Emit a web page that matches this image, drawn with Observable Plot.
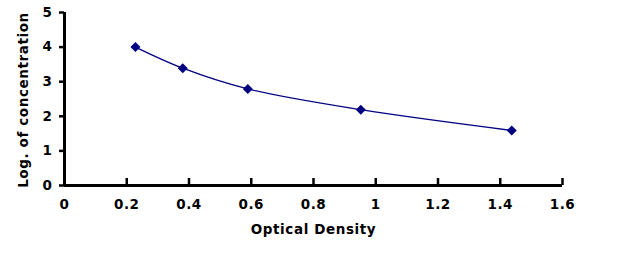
<!DOCTYPE html>
<html><head><meta charset="utf-8">
<script src="https://cdn.jsdelivr.net/npm/d3@7"></script>
<script src="https://cdn.jsdelivr.net/npm/@observablehq/plot@0.6"></script>
<style>body{margin:0;background:#fff;font-family:"DejaVu Sans",Arial,sans-serif;}</style>
</head><body><div id="chart"></div>
<script>
const opticalDensity = [0.228, 0.380, 0.589, 0.952, 1.437];
const logConcentration = [4.0, 3.39, 2.79, 2.19, 1.59];
const xTicks = [0, 0.2, 0.4, 0.6, 0.8, 1, 1.2, 1.4, 1.6];
const yTicks = [0, 1, 2, 3, 4, 5];
const data = opticalDensity.map((x, i) => ({x, y: logConcentration[i]}));

const chart = Plot.plot({
  width: 642, height: 262,
  marginLeft: 64, marginRight: 80, marginTop: 12, marginBottom: 77,
  style: {fontFamily: "DejaVu Sans, sans-serif", fontSize: "13.5px", fontWeight: "bold", letterSpacing: "0.6px", color: "#000", background: "#fff"},
  x: {domain: [0, 1.6]},
  y: {domain: [0, 5]},
  marks: [
    Plot.axisX(xTicks, {tickSize: 0, tickPadding: 14, fontSize: 13.5, fontWeight: "bold", tickFormat: d => String(d), label: null}),
    Plot.axisX(xTicks, {tickSize: -7, tickFormat: () => "", label: null, strokeWidth: 2.5}),
    Plot.axisY(yTicks, {tickSize: 5, tickPadding: 7, fontSize: 13.5, fontWeight: "bold", strokeWidth: 2.5, label: null}),
    Plot.ruleY([0], {stroke: "#000", strokeWidth: 3}),
    Plot.ruleX([0], {stroke: "#000", strokeWidth: 3}),
    Plot.line(data, {x: "x", y: "y", stroke: "#000080", strokeWidth: 1.3, curve: "catmull-rom"}),
    Plot.dot(data, {x: "x", y: "y", symbol: "diamond2", r: 4.5, fill: "#000080", stroke: "none"}),
    Plot.text(["Optical Density"], {frameAnchor: "bottom", dy: 48, fontSize: 13.5, fontWeight: "bold", fill: "#000"}),
    Plot.text(["Log. of concentration"], {frameAnchor: "left", textAnchor: "middle", dx: -41, dy: 1, rotate: -90, fontSize: 13.5, fontWeight: "bold", fill: "#000"})
  ]
});
document.getElementById("chart").append(chart);
</script></body></html>
